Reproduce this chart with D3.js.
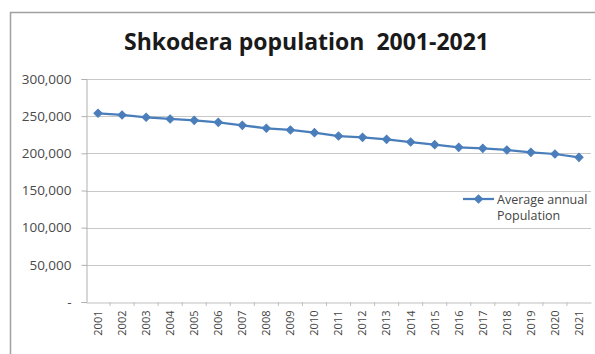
<!DOCTYPE html>
<html><head><meta charset="utf-8">
<script src="https://cdn.jsdelivr.net/npm/d3@7"></script>
<style>body{margin:0;background:#fff;}svg{display:block;}</style>
</head><body><svg id="c" width="595" height="354"></svg>
<script>
const years = ["2001","2002","2003","2004","2005","2006","2007","2008","2009","2010","2011","2012","2013","2014","2015","2016","2017","2018","2019","2020","2021"];
const population = [253900,251600,248500,246200,244400,241700,237700,233700,231400,227800,223300,221500,218800,215200,211700,208100,206700,204500,201300,199100,194600];
const yTicks = [0,50000,100000,150000,200000,250000,300000];
const title = "Shkodera population  2001-2021";
const legendLines = ["Average annual","Population"];

const svg = d3.select("#c");
const font = "'Open Sans', 'DejaVu Sans', sans-serif";
// outer border
svg.append("rect").attr("x",10.5).attr("y",12.5).attr("width",600).attr("height",360)
  .attr("fill","none").attr("stroke","#a0a0a0").attr("stroke-width",1.5);

const L=86, R=591, T=79, B=302;
const x = d3.scaleBand().domain(years).range([L,R]);
const y = d3.scaleLinear().domain([0,300000]).range([B,T]);

// gridlines
svg.append("g").selectAll("line").data(yTicks.filter(d=>d>0)).join("line")
  .attr("x1",L).attr("x2",R).attr("y1",d=>Math.round(y(d))+0.5).attr("y2",d=>Math.round(y(d))+0.5)
  .attr("stroke","#c8c8c8").attr("stroke-width",1);

// y axis
const ya = svg.append("g").attr("transform",`translate(${L+0.5},0)`)
  .call(d3.axisLeft(y).tickValues(yTicks).tickSize(5).tickPadding(10)
    .tickFormat(d=> d===0 ? "-" : d3.format(",")(d)));
ya.select(".domain").attr("stroke","#b0b0b0");
ya.selectAll(".tick line").attr("stroke","#b0b0b0");
ya.selectAll(".tick text").attr("font-family",font).attr("font-size",13.5).attr("fill","#4a4a4a");

// x axis
const xa = svg.append("g").attr("transform",`translate(0,${B+0.5})`)
  .call(d3.axisBottom(x).tickSize(0).tickPadding(0));
xa.select(".domain").attr("stroke","#c0c0c0");
xa.selectAll(".tick text").attr("font-family",font).attr("font-size",11).attr("fill","#444")
  .attr("transform","rotate(-90)").attr("text-anchor","end").attr("dx","-8").attr("dy","0.35em").attr("y",0).attr("x",0);
// tick marks between categories
svg.append("g").selectAll("line").data(years.slice(1)).join("line")
  .attr("x1",d=>x(d)).attr("x2",d=>x(d)).attr("y1",B).attr("y2",B+4)
  .attr("stroke","#c0c0c0");

// line
const cx = d=>x(d)+x.bandwidth()/2;
const color = "#4a7ebb";
svg.append("path").datum(population)
  .attr("d", d3.line().x((d,i)=>cx(years[i])).y(d=>y(d)))
  .attr("fill","none").attr("stroke",color).attr("stroke-width",2.25);
const diamond = d3.symbol().type(d3.symbolSquare).size(34);
svg.append("g").selectAll("path").data(population).join("path")
  .attr("d",diamond).attr("transform",(d,i)=>`translate(${cx(years[i])},${y(d)}) rotate(45)`)
  .attr("fill",color).attr("stroke",color);

// legend
const lg = svg.append("g");
lg.append("line").attr("x1",463).attr("x2",494).attr("y1",199).attr("y2",199).attr("stroke",color).attr("stroke-width",2.25);
lg.append("path").attr("d",diamond).attr("transform","translate(478.5,199) rotate(45)").attr("fill",color).attr("stroke",color);
lg.selectAll("text").data(legendLines).join("text")
  .attr("x",497).attr("y",(d,i)=>203.5+i*16).text(d=>d)
  .attr("font-family",font).attr("font-size",12.5).attr("fill","#444");

// title
svg.append("text").attr("x",306.5).attr("y",50).attr("text-anchor","middle")
  .attr("font-family","'Open Sans', sans-serif").attr("font-weight","bold").attr("font-size",23)
  .attr("fill","#1a1a1a").attr("xml:space","preserve").style("white-space","pre").text(title);
</script></body></html>
